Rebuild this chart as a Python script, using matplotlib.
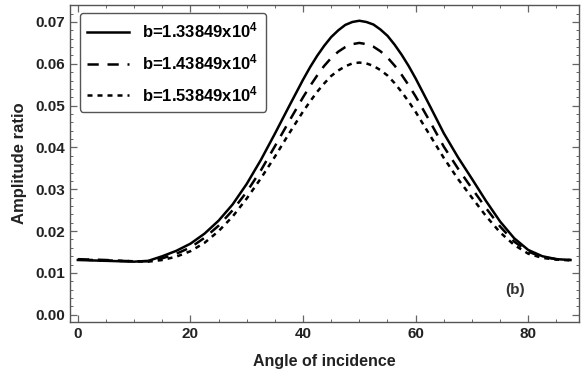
import matplotlib
matplotlib.use('Agg')
import matplotlib.pyplot as plt
from matplotlib.ticker import MultipleLocator

plt.rcParams['font.family'] = ['Liberation Sans', 'DejaVu Sans']
plt.rcParams['font.weight'] = 'bold'
plt.rcParams['mathtext.fontset'] = 'custom'
plt.rcParams['mathtext.rm'] = 'Liberation Sans:bold'
plt.rcParams['mathtext.bf'] = 'Liberation Sans:bold'
plt.rcParams['mathtext.default'] = 'bf'

# angle of incidence (degrees)
angle = [0, 2.5, 5, 7.5, 10, 12.5, 15, 17.5, 20, 22.5, 25, 27.5, 30, 32.5, 35, 37.5,
         40, 41.25, 42.5, 43.75, 45, 46.25, 47.5, 48.75, 50, 51.25, 52.5, 53.75,
         55, 56.25, 57.5, 58.75, 60, 62.5, 65, 67.5, 70, 72.5, 75,
         77.5, 80, 82.5, 85, 87.5]

# amplitude ratio for b = 1.33849e4
amp_b1 = [0.0131, 0.0130, 0.0129, 0.0128, 0.0127, 0.0129, 0.0140, 0.0153, 0.0170,
          0.0194, 0.0225, 0.0264, 0.0313, 0.0370, 0.0433, 0.0498,
          0.0562, 0.0592, 0.0619, 0.0643, 0.0664, 0.0680, 0.0693, 0.0700, 0.0703,
          0.0700, 0.0694, 0.0682, 0.0667, 0.0646, 0.0622, 0.0595, 0.0565,
          0.0500, 0.0434, 0.0377, 0.0325, 0.0272, 0.0223, 0.0183, 0.0155, 0.0140,
          0.0133, 0.0131]

# amplitude ratio for b = 1.43849e4
amp_b2 = [0.0133, 0.0132, 0.0131, 0.0129, 0.0128, 0.0128, 0.0135, 0.0146, 0.0161,
          0.0184, 0.0213, 0.0250, 0.0294, 0.0345, 0.0403, 0.0462,
          0.0520, 0.0547, 0.0572, 0.0595, 0.0614, 0.0629, 0.0640, 0.0647, 0.0650,
          0.0647, 0.0641, 0.0630, 0.0615, 0.0596, 0.0574, 0.0549, 0.0522,
          0.0463, 0.0402, 0.0350, 0.0302, 0.0255, 0.0211, 0.0175, 0.0151, 0.0138,
          0.0133, 0.0131]

# amplitude ratio for b = 1.53849e4
amp_b3 = [0.0132, 0.0131, 0.0130, 0.0129, 0.0128, 0.0127, 0.0131, 0.0139, 0.0152,
          0.0172, 0.0200, 0.0235, 0.0278, 0.0326, 0.0378, 0.0433,
          0.0486, 0.0510, 0.0533, 0.0553, 0.0571, 0.0584, 0.0594, 0.0601, 0.0603,
          0.0601, 0.0595, 0.0585, 0.0572, 0.0554, 0.0533, 0.0510, 0.0485,
          0.0430, 0.0375, 0.0325, 0.0280, 0.0236, 0.0197, 0.0167, 0.0146, 0.0136,
          0.0132, 0.0130]

labels = [r'b=1.33849x10$^{4}$', r'b=1.43849x10$^{4}$', r'b=1.53849x10$^{4}$']

fig = plt.figure(figsize=(5.83, 3.73), dpi=100)
ax = fig.add_axes([0.120, 0.137, 0.873, 0.850])

lw = 1.8
ax.plot(angle, amp_b1, color='black', lw=lw, label=labels[0])
ax.plot(angle, amp_b2, color='black', lw=lw, dashes=(4.5, 3.5), label=labels[1])
ax.plot(angle, amp_b3, color='black', lw=lw, dashes=(2, 2), label=labels[2])

ax.set_xlim(-1.4, 89)
ax.set_ylim(-0.0017, 0.0741)

ax.xaxis.set_major_locator(MultipleLocator(20))
ax.xaxis.set_minor_locator(MultipleLocator(5))
ax.yaxis.set_major_locator(MultipleLocator(0.01))
ax.yaxis.set_minor_locator(MultipleLocator(0.002))
ax.yaxis.set_major_formatter(plt.FormatStrFormatter('%.2f'))

ax.tick_params(which='both', direction='in', top=True, right=True, color='#666666')
ax.tick_params(which='major', length=5, labelsize=11, width=0.9, labelcolor='#222222')
ax.tick_params(which='minor', length=2.5, width=0.7)
for s in ax.spines.values():
    s.set_color('#555555')
    s.set_linewidth(1.0)

ax.set_xlabel('Angle of incidence', fontsize=11.5, fontweight='bold', color='#222222')
ax.xaxis.set_label_coords(0.5, -0.1)
ax.xaxis.label.set_va('top')
ax.set_ylabel('Amplitude ratio', fontsize=12, fontweight='bold', color='#222222')
ax.yaxis.set_label_coords(-0.085, 0.5)

ax.text(77.6, 0.006, '(b)', fontsize=11, fontweight='bold', color='#333333',
        ha='center', va='center')

leg = ax.legend(loc='upper left', fontsize=12, frameon=True, fancybox=True,
                edgecolor='#555555', handlelength=2.5, handletextpad=0.8,
                borderpad=0.45, labelspacing=0.72, borderaxespad=0,
                bbox_to_anchor=(0.0195, 0.974))
leg.get_frame().set_linewidth(1.0)
leg.get_frame().set_alpha(1)

fig.savefig('out.png', dpi=100)
